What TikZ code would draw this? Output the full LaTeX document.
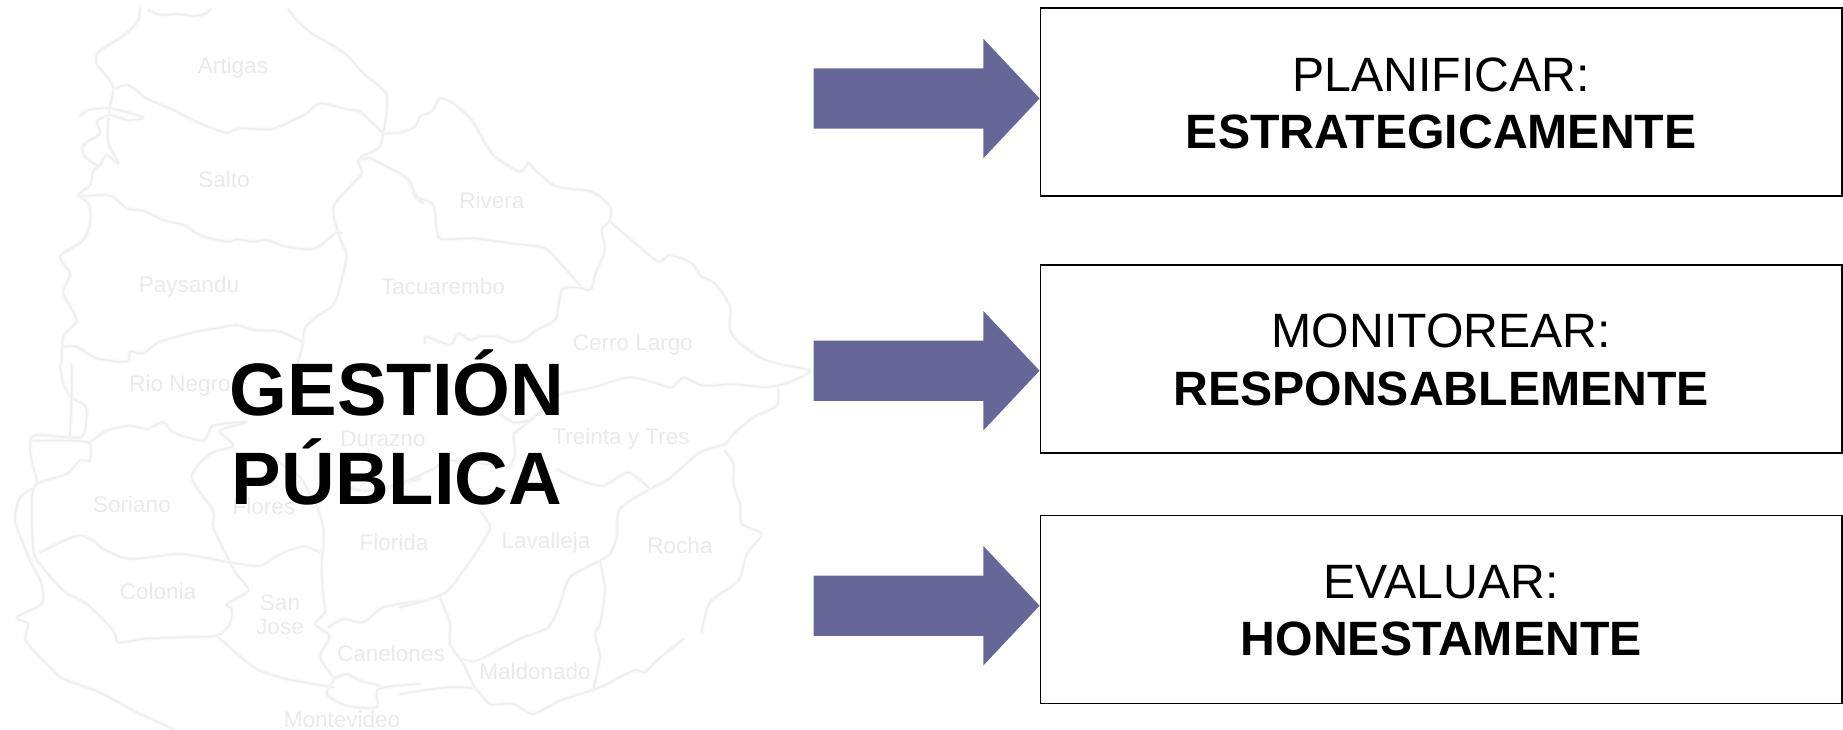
\documentclass[tikz,border=0pt]{standalone}
\usepackage{fontspec}
\setmainfont{Liberation Sans}
\usetikzlibrary{shapes.arrows}
\definecolor{arrowcol}{HTML}{666699}
\definecolor{mapsoft}{HTML}{F8F8F8}
\definecolor{mapline}{HTML}{EEEEEE}
\definecolor{maptext}{HTML}{EAEAEA}
\tikzset{
  mapsoftline/.style={draw=mapsoft,line width=3.6pt,line join=round,line cap=round},
  maphard/.style={draw=mapline,line width=1.3pt,line join=round,line cap=round},
  maplabel/.style={text=maptext,font=\fontsize{22.5}{24}\selectfont,inner sep=0pt,align=center},
  titlebox/.style={draw=black,line width=1.8pt,fill=white,minimum width=801.5pt,minimum height=188pt,inner sep=0pt,align=center,font=\fontsize{48.2}{57.5}\selectfont},
  bigarrow/.style={single arrow,fill=arrowcol,draw=none,minimum height=226pt,minimum width=119pt,single arrow head extend=29.5pt,single arrow tip angle=93.5,inner xsep=0pt,inner ysep=30pt,outer sep=0pt,anchor=tip},
  mainlabel/.style={font=\bfseries\fontsize{74.3}{89}\selectfont,align=center,inner sep=0pt}
}
\newcommand{\mapl}[1]{%
  \draw[mapsoftline] plot[smooth,tension=0.45] coordinates {#1};
  \draw[maphard] plot[smooth,tension=0.45] coordinates {#1};}
\newcommand{\dnline}[1]{\raisebox{-1.2pt}[\height][\depth]{#1}}
\begin{document}
\begin{tikzpicture}[x=1pt,y=-1pt]
\useasboundingbox (0,0) rectangle (1843,729);
\fill[white] (0,0) rectangle (1843,729);
% map, zoom-crop coordinates (3x)
\begin{scope}[x=0.3333pt,y=-0.3333pt]
\mapl{(445,30)(480,45)(530,42)(580,48)(615,42)(632,28)}
\mapl{(865,28)(890,60)(935,100)(980,125)(1040,165)(1090,220)(1160,285)(1150,400)(1135,445)(1085,470)(1075,485)(1085,520)(1050,560)(1005,610)(1000,640)(1015,700)(1030,740)(1040,770)(1020,860)(1000,915)(950,950)(915,985)(905,1050)(890,1095)}
\mapl{(350,265)(385,255)(440,295)(520,330)(600,370)(680,398)(720,385)(810,388)(860,370)(920,340)(960,310)(1040,328)(1080,335)(1145,395)}
\mapl{(420,25)(415,60)(380,100)(310,145)(290,165)(292,195)(325,235)(340,265)(330,320)(325,360)(325,430)(355,490)(320,465)(300,495)(280,510)(270,555)(235,585)(265,610)(272,660)(250,720)(180,770)(210,820)(190,880)(230,960)(190,1010)(185,1092)}
\mapl{(240,350)(265,330)(330,325)(430,352)(380,360)(330,345)(290,365)(300,400)(250,435)(255,470)(290,495)}
\mapl{(235,590)(310,585)(340,590)(380,625)(430,632)(490,660)(550,675)(590,700)(640,718)(690,725)(710,718)(760,725)(800,720)(860,740)(935,748)(970,730)(1005,700)(1025,700)}
\mapl{(190,1040)(230,1040)(290,1075)(380,1085)(390,1055)(430,1060)(480,1025)(590,995)(650,985)(710,975)(760,990)(840,995)(905,1025)}
\mapl{(1080,480)(1110,475)(1170,505)(1220,535)(1245,590)(1270,610)}
\mapl{(1150,400)(1200,398)}
\end{scope}
\begin{scope}[shift={(400,0)},x=0.3333pt,y=-0.3333pt]
\mapl{(0,520)(30,545)(50,590)(100,615)(110,690)(125,718)(220,715)(330,730)(435,745)(490,800)(550,865)(575,865)(585,825)(615,750)(605,690)(630,660)(630,620)(575,575)(470,560)(410,515)(385,490)(360,515)(285,470)(250,420)(215,360)(160,310)(120,295)(95,335)(60,350)(45,380)(0,400)}
\mapl{(630,665)(700,725)(775,785)(810,765)(875,790)(905,830)(945,850)(990,920)(990,990)(1020,1030)(1085,1075)(1150,1095)}
\mapl{(550,865)(490,865)(475,920)(465,960)(410,990)(370,1020)(335,1025)(290,1010)(240,1010)(210,1020)(175,1000)(150,1035)(80,1010)(75,1030)}
\end{scope}
\begin{scope}[shift={(0,364)},x=0.3333pt,y=-0.3333pt]
\mapl{(180,0)(190,60)(215,100)(255,125)(260,160)(240,220)(100,215)(95,290)(110,360)(60,400)(45,470)(70,540)(95,600)(125,660)(125,720)(50,760)(85,780)(75,825)(110,870)(150,910)(190,945)(300,985)(400,1040)(520,1095)}
\mapl{(215,0)(215,100)(210,215)}
\mapl{(100,230)(230,230)(270,240)(270,290)(240,290)(200,330)(110,360)(95,420)(100,560)(120,600)(190,680)(260,720)(340,800)(355,835)(430,825)(530,820)(650,815)(690,780)(695,735)(680,720)(745,680)(710,630)(690,595)(640,490)(640,440)(575,340)(630,270)(700,245)(660,200)(740,175)(640,185)(610,230)(520,205)(490,175)(440,195)(390,185)(320,200)(270,235)}
\mapl{(120,565)(230,515)(280,530)(310,555)(390,585)(540,570)(690,595)(780,605)(840,570)(910,548)(960,565)}
\mapl{(950,420)(970,490)(970,550)(965,600)(970,700)(975,745)(945,780)(985,810)(985,830)(960,880)(1000,945)(980,990)(1040,1025)(1130,1030)(1135,975)(1260,960)}
\mapl{(650,815)(700,860)(770,915)(860,945)(1000,970)}
\mapl{(1000,945)(1040,930)(1080,950)(1140,965)}
\mapl{(985,790)(1030,765)(1090,775)(1150,730)(1260,710)}
\mapl{(830,290)(900,340)(930,390)(950,420)}
\mapl{(1050,370)(1100,380)(1260,345)}
\end{scope}
\begin{scope}[shift={(400,364)},x=0.3333pt,y=-0.3333pt]
\mapl{(480,90)(580,70)(685,40)(760,55)(815,70)(850,40)(910,65)(1000,60)(1100,70)(1180,50)(1230,20)(1149,3)}
\mapl{(1135,75)(1130,125)(1060,160)(1000,210)(975,240)(900,265)(835,320)(800,350)(750,375)(660,435)(650,520)(630,570)(600,590)(510,640)(480,720)(445,790)(370,820)(310,850)(230,890)(180,885)}
\mapl{(975,260)(1000,300)(1000,360)(1020,420)(1025,480)(1085,510)(1040,570)(1015,650)(930,715)(905,805)}
\mapl{(850,825)(770,890)(735,925)(700,920)(600,970)(480,1010)(400,1050)(340,1020)(270,1020)(225,975)(140,970)(0,990)}
\mapl{(600,590)(615,680)(600,780)(585,810)(600,880)(580,975)}
\mapl{(470,315)(530,345)(610,365)(685,325)(750,375)}
\mapl{(340,210)(345,270)(330,310)}
\mapl{(480,90)(390,170)(340,210)}
\mapl{(300,150)(340,175)(390,170)}
\mapl{(0,360)(90,320)(150,290)(330,310)}
\mapl{(240,440)(270,490)(235,555)(190,620)(130,690)(0,730)}
\mapl{(120,700)(150,780)(150,840)(190,900)(225,975)}
\end{scope}
% map labels
\node[maplabel] (artigas) at (233,68) {Artigas};
\node[maplabel] (salto) at (224,179) {Salto};
\node[maplabel] (paysandu) at (189,287) {Paysandu};
\node[maplabel] (tacuarembo) at (443,286) {Tacuarembo};
\node[maplabel] (rivera) at (492,200) {Rivera};
\node[maplabel] (cerro) at (633,345) {Cerro Largo};
\node[maplabel] (rionegro) at (180,386) {Rio Negro};
\node[maplabel] (durazno) at (383,439) {Durazno};
\node[maplabel] (treinta) at (621,439) {Treinta y Tres};
\node[maplabel] (soriano) at (132,504) {Soriano};
\node[maplabel] (flores) at (264,506) {Flores};
\node[maplabel] (florida) at (394,542) {Florida};
\node[maplabel] (lavalleja) at (546,543) {Lavalleja};
\node[maplabel] (rocha) at (680,545) {Rocha};
\node[maplabel] (colonia) at (158,591) {Colonia};
\node[maplabel] (sanjose) at (280,615) {San\\Jose};
\node[maplabel] (canelones) at (391,653) {Canelones};
\node[maplabel] (maldonado) at (535,671) {Maldonado};
\node[maplabel] (montevideo) at (342,719) {Montevideo};
% main label
\node[mainlabel] (gestion) at (397,427) {GESTIÓN\\PÚBLICA};
% boxes
\node[titlebox] (b1) at (1441.2,102) {\dnline{PLANIFICAR:}\\\dnline{\textbf{ESTRATEGICAMENTE}}};
\node[titlebox] (b2) at (1441.2,358.8) {\dnline{MONITOREAR:}\\\dnline{\textbf{RESPONSABLEMENTE}}};
\node[titlebox] (b3) at (1441.2,609.4) {\dnline{EVALUAR:}\\\dnline{\textbf{HONESTAMENTE}}};
% arrows
\node[bigarrow] (a1) at (b1.west |- 0,98.5) {};
\node[bigarrow] (a2) at (b2.west |- 0,370.7) {};
\node[bigarrow] (a3) at (b3.west |- 0,605.7) {};
\end{tikzpicture}
\end{document}
